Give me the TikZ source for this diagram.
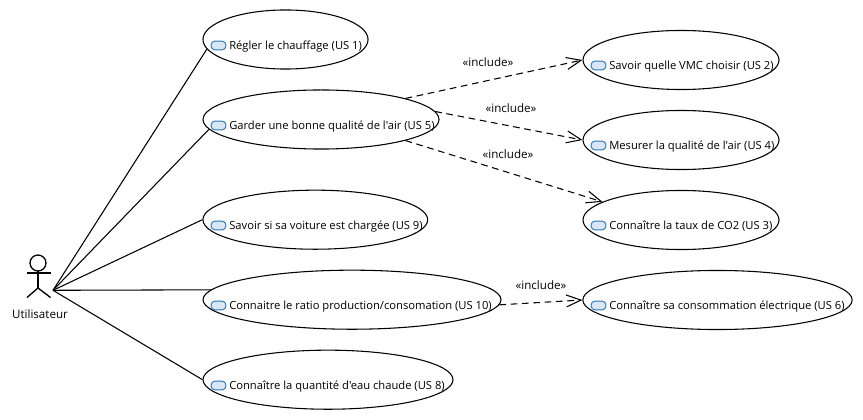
\documentclass[tikz,border=0pt]{standalone}
\usepackage{fontspec}
\setmainfont{Open Sans}[Ligatures=TeXOff]
\usetikzlibrary{shapes.geometric,arrows.meta}
\definecolor{iconfill}{HTML}{D9E6F4}
\definecolor{iconline}{HTML}{2F75B5}
\tikzset{
  usecase/.style={draw,ellipse,line width=0.8pt,inner sep=0pt,minimum height=44.3pt},
  usetext/.style={anchor=west,inner sep=0pt,font=\fontsize{8.4pt}{10pt}\selectfont},
  usericon/.style={draw=iconline,fill=iconfill,line width=0.7pt,rounded corners=3pt,inner sep=0pt,minimum width=11.2pt,minimum height=6.6pt},
  stereo/.style={inner sep=0pt,font=\fontsize{8.7pt}{10pt}\selectfont},
  assoc/.style={line width=0.8pt},
  incl/.style={line width=0.8pt,dash pattern=on 5pt off 3.5pt,-{Straight Barb[length=11pt,width=9pt,line width=0.8pt]}}
}
\begin{document}
\begin{tikzpicture}[x=0.75pt,y=-0.75pt]
\useasboundingbox (0,0) rectangle (863,420);
% actor
\path[draw,line width=1pt] (38,263) circle (8);
\path[draw,line width=1pt] (38,271) -- (38,288);
\path[draw,line width=1pt] (26.5,273) -- (50.5,273);
\path[draw,line width=1pt] (27,297.5) -- (38,288) -- (50.5,297.5);
\node[stereo] (user) at (40,314) {Utilisateur};
\coordinate (userend) at (53,290.3);
% left column
\node[usecase,minimum width=123.8pt] (us1) at (285.5,39.5) {};
\node[usericon] (us1icon) at (218.5,45.5) {};
\node[usetext] (us1text) at (229,46.5) {Régler le chauffage (US 1)};
\node[usecase,minimum width=177pt] (us5) at (321,119.5) {};
\node[usericon] (us5icon) at (218.5,125.5) {};
\node[usetext] (us5text) at (229,126.5) {Garder une bonne qualité de l'air (US 5)};
\node[usecase,minimum width=168.6pt] (us9) at (315.3,219.7) {};
\node[usericon] (us9icon) at (218.5,225.5) {};
\node[usetext] (us9text) at (229,226.5) {Savoir si sa voiture est chargée (US 9)};
\node[usecase,minimum width=223.5pt] (us10) at (352,299.7) {};
\node[usericon] (us10icon) at (218.5,305.5) {};
\node[usetext] (us10text) at (229,306.5) {Connaitre le ratio production/consomation (US 10)};
\node[usecase,minimum width=187.5pt] (us8) at (328,379.7) {};
\node[usericon] (us8icon) at (218.5,385.5) {};
\node[usetext] (us8text) at (229,386.5) {Connaître la quantité d'eau chaude (US 8)};
% right column
\node[usecase,minimum width=147pt] (us2) at (681,60) {};
\node[usericon] (us2icon) at (598.5,65.5) {};
\node[usetext] (us2text) at (609,66.5) {Savoir quelle VMC choisir (US 2)};
\node[usecase,minimum width=147pt] (us4) at (681,140) {};
\node[usericon] (us4icon) at (598.5,145.5) {};
\node[usetext] (us4text) at (609,146.5) {Mesurer la qualité de l'air (US 4)};
\node[usecase,minimum width=147pt] (us3) at (681,220) {};
\node[usericon] (us3icon) at (598.5,225.5) {};
\node[usetext] (us3text) at (609,226.5) {Connaître la taux de CO2 (US 3)};
\node[usecase,minimum width=202pt] (us6) at (717.5,300) {};
\node[usericon] (us6icon) at (598.5,305.5) {};
\node[usetext] (us6text) at (609,306.5) {Connaître sa consommation électrique (US 6)};
% associations
\path[draw,assoc] (userend) -- (us1.187);
\path[draw,assoc] (userend) -- (us5.185);
\path[draw,assoc] (userend) -- (us9.180);
\path[draw,assoc] (userend) -- (us10.176.2);
\path[draw,assoc] (userend) -- (us8.180);
% includes
\path[draw,incl] (us5.14.7) -- (us2.west);
\path[draw,incl] (us5.4) -- (us4.west);
\path[draw,incl] (us5.-14.7) -- (us3.167);
\path[draw,incl] (us10.358) -- (us6.west);
\node[stereo] (incl2) at (488,62) {«include»};
\node[stereo] (incl4) at (511,108) {«include»};
\node[stereo] (incl3) at (508,154) {«include»};
\node[stereo] (incl6) at (541,285) {«include»};
\end{tikzpicture}
\end{document}
